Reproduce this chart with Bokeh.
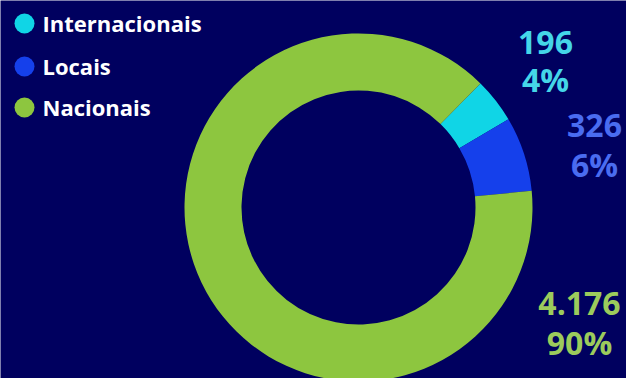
import math
from bokeh.plotting import figure
from bokeh.models import Range1d, ColumnDataSource
from bokeh.core.properties import value
from bokeh.embed import file_html
from bokeh.resources import INLINE

# ---- data ----
categories = ["Internacionais", "Locais", "Nacionais"]
counts = [196, 326, 4176]
count_labels = ["196", "326", "4.176"]
pct_labels = ["4%", "6%", "90%"]
slice_colors = ["#10d5e6", "#1540eb", "#8dc63f"]
label_colors = ["#45d6e8", "#4a6cf0", "#9ccb5c"]

# ---- layout (pixel space, y measured from top) ----
W, H = 626, 378
BG = "#00005f"
cx, cy = 358, 207
r_out, r_in = 174, 117
start_deg = 45.5  # math angle where the first slice starts, drawn clockwise

p = figure(width=W, height=H, output_backend="svg", toolbar_location=None,
           x_range=Range1d(0, W), y_range=Range1d(0, H), min_border=0,
           background_fill_color=BG, border_fill_color=BG)
p.axis.visible = False
p.grid.visible = False
p.outline_line_color = None

total = sum(counts)
starts, ends = [], []
a = math.radians(start_deg)
for c in counts:
    sweep = 2 * math.pi * c / total
    starts.append(a)
    ends.append(a - sweep)
    a -= sweep

src = ColumnDataSource(dict(x=[cx] * 3, y=[H - cy] * 3, start=starts, end=ends,
                            color=slice_colors))
p.annular_wedge(x="x", y="y", inner_radius=r_in, outer_radius=r_out,
                start_angle="start", end_angle="end", direction="clock",
                fill_color="color", line_color=None, source=src)

# value labels (layout anchors: x center, vertical centers of the two lines)
label_pos = [(545, 42, 79), (594, 125, 164), (579, 303, 342)]
for i in range(3):
    lx, c1, c2 = label_pos[i]
    p.text(x=[lx, lx], y=[H - c1, H - c2], text=[count_labels[i], pct_labels[i]],
           text_align="center", text_baseline="middle",
           text_font=value("Open Sans"), text_font_style="bold",
           text_font_size="32px", text_color=label_colors[i])

# legend
leg_y = [23, 66, 107]
p.scatter(x=[24] * 3, y=[H - v for v in leg_y], size=20, marker="circle",
          fill_color=slice_colors, line_color=None)
p.text(x=[42] * 3, y=[H - v + 1 for v in leg_y], text=categories,
       text_align="left", text_baseline="middle",
       text_font=value("Open Sans"), text_font_style="bold",
       text_font_size="22px", text_color="white")

open("out.html", "w").write(file_html(p, INLINE))
